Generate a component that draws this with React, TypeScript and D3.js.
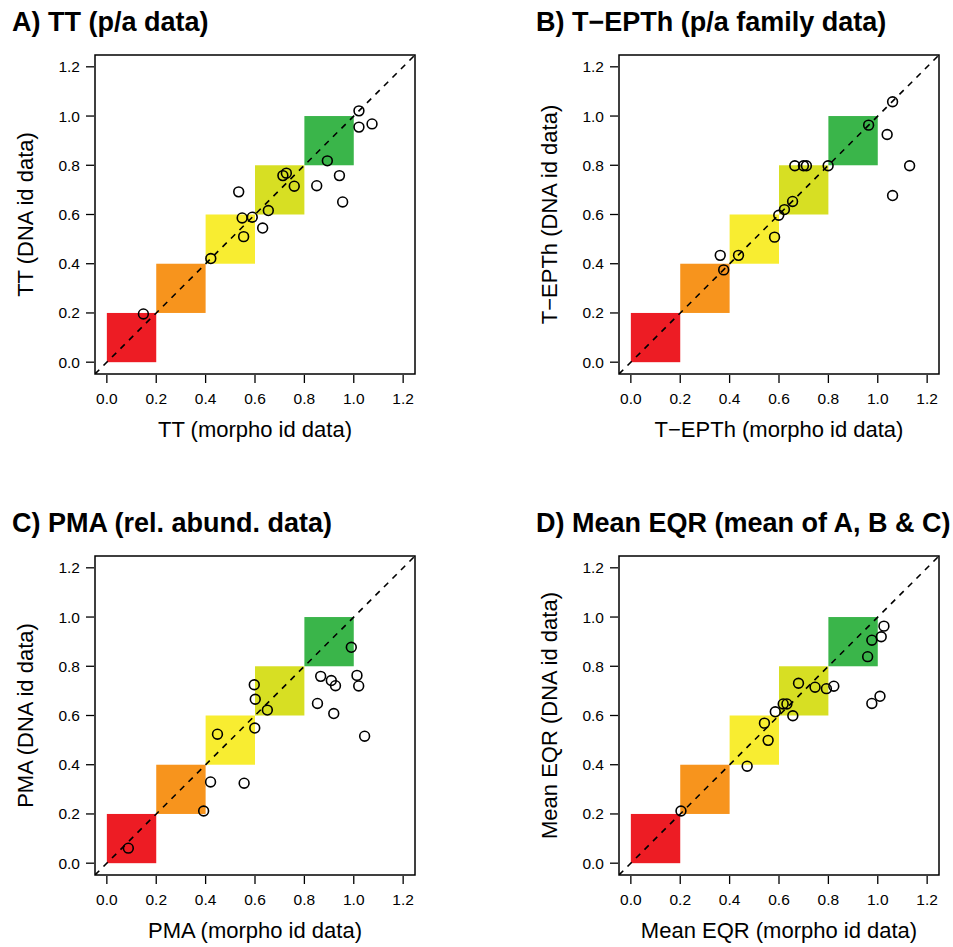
import React from "react";
import * as d3 from "d3";

// axis ticks shared by every panel
const tickValues = [0, 0.2, 0.4, 0.6, 0.8, 1.0, 1.2];
const tickLabels = ["0.0", "0.2", "0.4", "0.6", "0.8", "1.0", "1.2"];

// quality classes (bad -> high)
const classBreaks = [0, 0.2, 0.4, 0.6, 0.8, 1.0];
const classColors = ["#ed1c24", "#f7941d", "#f8ed31", "#d7df23", "#3ab54a"];

// A) TT
const ttMorpho = [0.148, 0.421, 0.534, 0.548, 0.589, 0.554, 0.631, 0.654, 0.713, 0.727, 0.759, 0.85, 0.893, 0.942, 0.955, 1.021, 1.021, 1.074];
const ttDna = [0.196, 0.421, 0.692, 0.586, 0.589, 0.51, 0.545, 0.616, 0.758, 0.768, 0.715, 0.717, 0.818, 0.758, 0.651, 1.021, 0.955, 0.968];

// B) T-EPTh
const eptMorpho = [0.376, 0.362, 0.436, 0.582, 0.599, 0.622, 0.655, 0.664, 0.699, 0.711, 0.799, 0.963, 1.06, 1.038, 1.129, 1.06];
const eptDna = [0.375, 0.434, 0.434, 0.508, 0.597, 0.62, 0.653, 0.798, 0.798, 0.798, 0.798, 0.963, 1.058, 0.925, 0.798, 0.677];

// C) PMA
const pmaMorpho = [0.087, 0.392, 0.42, 0.556, 0.448, 0.599, 0.65, 0.601, 0.597, 0.853, 0.866, 0.909, 0.926, 0.919, 0.99, 1.013, 1.02, 1.044];
const pmaDna = [0.061, 0.212, 0.33, 0.325, 0.524, 0.549, 0.622, 0.666, 0.725, 0.649, 0.759, 0.742, 0.721, 0.608, 0.877, 0.763, 0.72, 0.516];

// D) Mean EQR
const eqrMorpho = [0.203, 0.471, 0.556, 0.541, 0.585, 0.617, 0.632, 0.656, 0.679, 0.746, 0.792, 0.822, 0.959, 0.976, 1.014, 1.025, 0.976, 1.009];
const eqrDna = [0.212, 0.394, 0.499, 0.569, 0.615, 0.647, 0.647, 0.599, 0.731, 0.715, 0.709, 0.719, 0.839, 0.906, 0.92, 0.963, 0.649, 0.678];

const FONT = "'Liberation Sans', Arial, Helvetica, sans-serif";

function Panel({ id, left, top, title, xLabel, yLabel, xs, ys }) {
  const width = 320,
    height = 319;
  const x = d3.scaleLinear().domain([-0.048, 1.248]).range([left, left + width]);
  const y = d3.scaleLinear().domain([-0.048, 1.248]).range([top + height, top]);
  const bottom = top + height;
  const clipId = "clip-" + id;

  return (
    <g>
      <clipPath id={clipId}>
        <rect x={left} y={top} width={width} height={height} />
      </clipPath>

      {/* class squares along the 1:1 line */}
      {classColors.map((c, i) => (
        <rect
          key={c}
          x={x(classBreaks[i])}
          y={y(classBreaks[i + 1])}
          width={x(classBreaks[i + 1]) - x(classBreaks[i])}
          height={y(classBreaks[i]) - y(classBreaks[i + 1])}
          fill={c}
        />
      ))}

      <line
        x1={x(-0.048)}
        y1={y(-0.048)}
        x2={x(1.248)}
        y2={y(1.248)}
        stroke="#000"
        strokeWidth={1.6}
        strokeDasharray="6,6"
        clipPath={`url(#${clipId})`}
      />

      {xs.map((v, i) => (
        <circle key={i} cx={x(v)} cy={y(ys[i])} r={4.9} fill="none" stroke="#000" strokeWidth={1.6} />
      ))}

      <rect x={left} y={top} width={width} height={height} fill="none" stroke="#000" strokeWidth={1.5} />

      {/* x axis */}
      {tickValues.map((t, i) => (
        <g key={"x" + i}>
          <line x1={x(t)} x2={x(t)} y1={bottom + 1} y2={bottom + 9} stroke="#000" strokeWidth={1.3} />
          <text x={x(t)} y={bottom + 30} textAnchor="middle" fontSize={15.5} fontFamily={FONT}>
            {tickLabels[i]}
          </text>
        </g>
      ))}
      {/* y axis */}
      {tickValues.map((t, i) => (
        <g key={"y" + i}>
          <line x1={left - 1} x2={left - 9} y1={y(t)} y2={y(t)} stroke="#000" strokeWidth={1.3} />
          <text x={left - 15} y={y(t) + 5.5} textAnchor="end" fontSize={15.5} fontFamily={FONT}>
            {tickLabels[i]}
          </text>
        </g>
      ))}

      <text x={left + width / 2} y={bottom + 63} textAnchor="middle" fontSize={22} fontFamily={FONT}>
        {xLabel}
      </text>
      <text
        transform={`translate(${left - 62},${top + height / 2}) rotate(-90)`}
        textAnchor="middle"
        fontSize={22}
        fontFamily={FONT}
      >
        {yLabel}
      </text>

      <text x={left - 83} y={top - 24} fontSize={27} fontWeight="bold" fontFamily={FONT}>
        {title}
      </text>
    </g>
  );
}

export default function App() {
  return (
    <svg width={953} height={947} style={{ position: "absolute", left: 0, top: 0, background: "#fff" }}>
      <rect width={953} height={947} fill="#fff" />
      <Panel id="a" left={95} top={55} title="A) TT (p/a data)" xLabel="TT (morpho id data)" yLabel="TT (DNA id data)" xs={ttMorpho} ys={ttDna} />
      <Panel
        id="b"
        left={619}
        top={55}
        title="B) T−EPTh (p/a family data)"
        xLabel="T−EPTh (morpho id data)"
        yLabel="T−EPTh (DNA id data)"
        xs={eptMorpho}
        ys={eptDna}
      />
      <Panel id="c" left={95} top={556} title="C) PMA (rel. abund. data)" xLabel="PMA (morpho id data)" yLabel="PMA (DNA id data)" xs={pmaMorpho} ys={pmaDna} />
      <Panel
        id="d"
        left={619}
        top={556}
        title="D) Mean EQR (mean of A, B & C)"
        xLabel="Mean EQR (morpho id data)"
        yLabel="Mean EQR (DNA id data)"
        xs={eqrMorpho}
        ys={eqrDna}
      />
    </svg>
  );
}
